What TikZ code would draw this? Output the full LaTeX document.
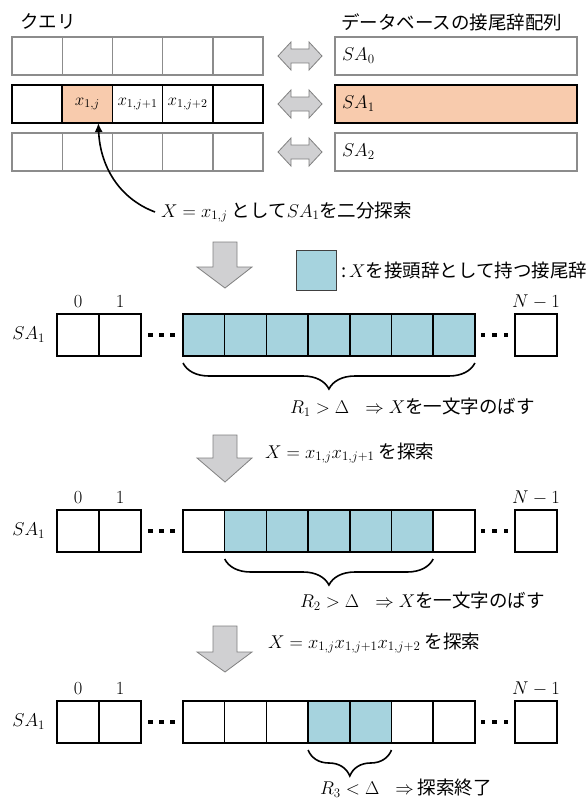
\RequirePackage{fix-cm}
\documentclass[tikz,border=0pt]{standalone}
\usepackage{fontspec}
\setmainfont{Noto Sans CJK JP}
\usetikzlibrary{decorations.pathreplacing,arrows.meta}
\definecolor{salmon}{RGB}{248,203,173}
\definecolor{cyanb}{RGB}{166,211,222}
\definecolor{gborder}{RGB}{140,140,140}
\definecolor{afill}{RGB}{208,208,210}
\definecolor{aline}{RGB}{128,128,128}
\begin{document}
\begin{tikzpicture}[x=1pt,y=-1pt,
  txt/.style={font=\fontsize{18.5}{22}\selectfont,inner sep=0pt,outer sep=0pt},
  smalltxt/.style={font=\fontsize{17}{20}\selectfont,inner sep=0pt},
  qcell/.style={draw=gborder,line width=1.4pt,minimum width=50.2pt,minimum height=38pt,inner sep=0pt,outer sep=0pt,anchor=north west},
  qcellb/.style={qcell,draw=black,line width=1.6pt},
  sabox/.style={draw=gborder,line width=1.4pt,minimum width=242pt,minimum height=38pt,inner sep=0pt,outer sep=0pt,anchor=north west,fill=white},
  acell/.style={draw=black,line width=1.5pt,minimum width=41.7pt,minimum height=42pt,inner sep=0pt,outer sep=0pt,anchor=north west,fill=white},
  ecell/.style={acell,minimum width=42pt},
  hit/.style={fill=cyanb},
  blockarrow/.style={fill=afill,draw=aline,line width=0.8pt},
  bracestyle/.style={decorate,decoration={brace,mirror,amplitude=26pt,raise=7pt},line width=1.6pt},
]
\useasboundingbox (0,0) rectangle (586,800);
\fill[white] (0,0) rectangle (586,800);

% headings
\node[txt,anchor=west] (hq) at (20,21) {クエリ};
\node[txt,anchor=west] (hdb) at (341,22) {データベースの接尾辞配列};

% query grid
\foreach \i in {0,...,4} {
  \node[qcell] (qa\i) at ({12+50.2*\i},37) {};
  \node[qcellb] (qb\i) at ({12+50.2*\i},85) {};
  \node[qcell] (qc\i) at ({12+50.2*\i},133) {};
}
\node[qcellb,fill=salmon] (qb1) at (62.2,85) {};
\node[smalltxt] (xj) at (qb1.center) {$x_{1,j}$};
\node[smalltxt] (xj1) at (qb2.center) {$x_{1,j+1}$};
\node[smalltxt] (xj2) at (qb3.center) {$x_{1,j+2}$};

% suffix array boxes
\node[sabox] (sa0) at (335,37) {};
\node[sabox,draw=black,line width=1.6pt,fill=salmon] (sa1) at (335,85) {};
\node[sabox] (sa2) at (335,133) {};
\node[txt,anchor=west] (sa0t) at ([xshift=7pt]sa0.west) {$SA_0$};
\node[txt,anchor=west] (sa1t) at ([xshift=7pt]sa1.west) {$SA_1$};
\node[txt,anchor=west] (sa2t) at ([xshift=7pt]sa2.west) {$SA_2$};

% double arrows
\foreach \c in {56,104,152} {
  \draw[blockarrow] (278,\c) -- (291,\c-14) -- (291,\c-7) -- (309,\c-7) -- (309,\c-14)
    -- (322,\c) -- (309,\c+14) -- (309,\c+7) -- (291,\c+7) -- (291,\c+14) -- cycle;
}

% binary search text and curved arrow
\node[txt,anchor=west] (bs) at (161,212) {$X = x_{1,j}$ として$SA_1$を二分探索};
\draw[line width=1.6pt,-{Latex[length=9pt,width=8pt]}] ([xshift=-6pt]bs.west) .. controls (118,198) and (100,165) .. ([xshift=11pt]qb1.south);

% legend
\node[draw=black!75,line width=1.2pt,fill=cyanb,minimum width=40pt,minimum height=40pt,inner sep=0pt,anchor=north west] (leg) at (296,250) {};
\node[txt,anchor=west] (legt) at (341,270) {:\,$X$を接頭辞として持つ接尾辞};

% down arrows
\foreach \t/\h/\p in {242/267/288, 435/458/482, 626/652/672} {
  \draw[blockarrow] (213,\t) -- (237,\t) -- (237,\h) -- (252,\h) -- (225,\p) -- (197,\h) -- (213,\h) -- cycle;
}
\node[txt,anchor=west] (s2) at (265,453) {$X = x_{1,j}x_{1,j+1}$ を探索};
\node[txt,anchor=west] (s3) at (268,643) {$X = x_{1,j}x_{1,j+1}x_{1,j+2}$ を探索};

% arrays
\foreach \r/\y/\lo/\hi in {A/314/0/6, B/510/1/5, C/701/3/4} {
  \node[ecell] (\r f0) at (57,\y) {};
  \node[ecell] (\r f1) at (99,\y) {};
  \foreach \k in {0,...,6} {
    \node[acell] (\r m\k) at ({183+41.7*\k},\y) {};
  }
  \foreach \k in {\lo,...,\hi} {
    \node[acell,hit] (\r m\k) at ({183+41.7*\k},\y) {};
  }
  \node[ecell] (\r l) at (515,\y) {};
  \node[txt] (\r i0) at (78,\y-12) {$0$};
  \node[txt] (\r i1) at (120,\y-12) {$1$};
  \node[txt] (\r iN) at (536,\y-12) {$N-1$};
  \node[txt,anchor=east] (\r sa) at (45,\y+21) {$SA_1$};
  \foreach \d in {150.5,161.5,172.5,483,494.5,506} {
    \fill (\d-2.2,\y+18.8) rectangle (\d+2.2,\y+23.2);
  }
}

% braces
\draw[bracestyle] (Am0.south west) -- (Am6.south east);
\draw[bracestyle] (Bm1.south west) -- (Bm5.south east);
\draw[bracestyle] (Cm3.south west) -- (Cm4.south east);
\node[txt,anchor=west] (r1) at (290,407) {$R_1 > \Delta$\hspace{16pt}$\Rightarrow X$を一文字のばす};
\node[txt,anchor=west] (r2) at (300,601) {$R_2 > \Delta$\hspace{16pt}$\Rightarrow X$を一文字のばす};
\node[txt,anchor=west] (r3) at (320,788) {$R_3 < \Delta$\hspace{16pt}$\Rightarrow$ 探索終了};
\end{tikzpicture}
\end{document}
